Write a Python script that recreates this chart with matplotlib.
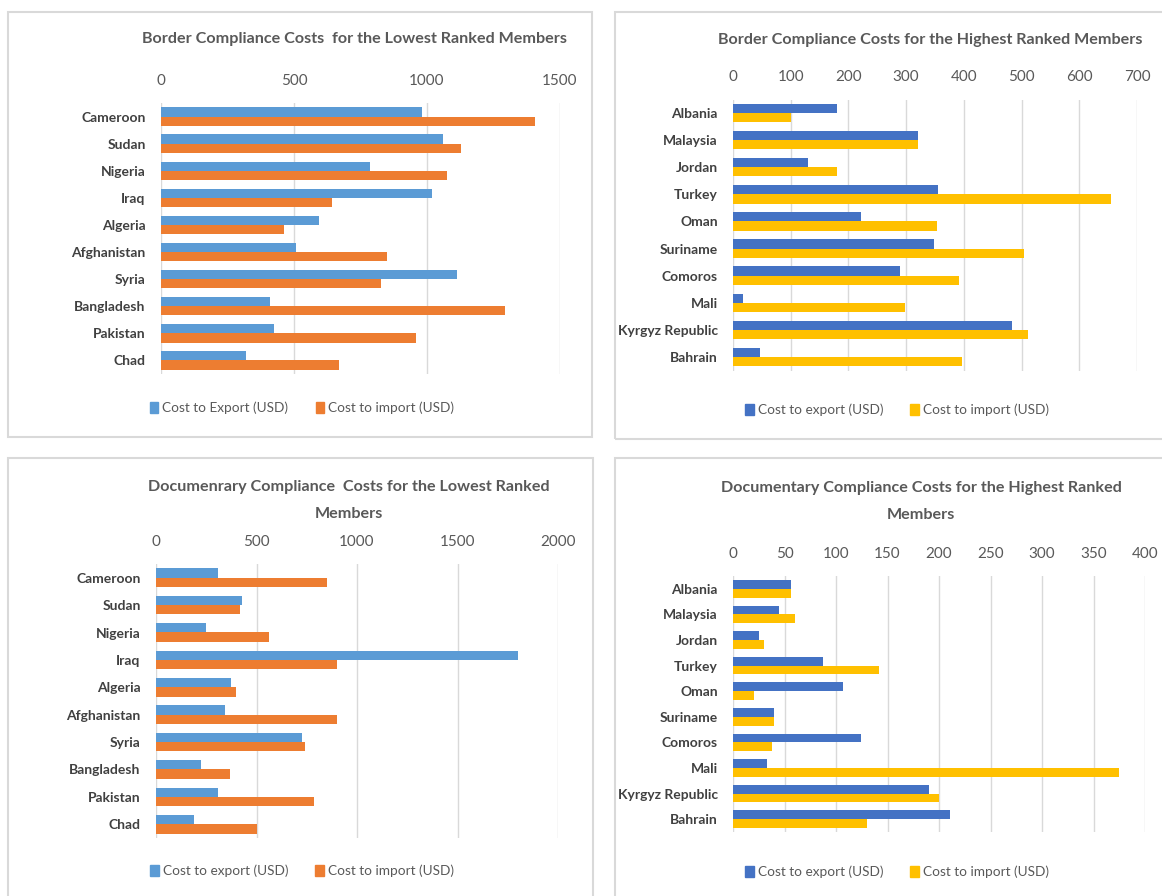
import matplotlib
matplotlib.use("Agg")
import matplotlib.pyplot as plt
import numpy as np
from matplotlib.patches import Patch, Rectangle

plt.rcParams["font.family"] = ["Lato", "DejaVu Sans"]

W, H = 1162, 896

# lowest ranked members
low_members = ["Cameroon", "Sudan", "Nigeria", "Iraq", "Algeria", "Afghanistan",
               "Syria", "Bangladesh", "Pakistan", "Chad"]
low_border_export = [983, 1060, 786, 1018, 594, 509, 1111, 408, 426, 319]
low_border_import = [1407, 1126, 1077, 643, 464, 848, 828, 1294, 957, 669]
low_doc_export = [306, 428, 248, 1800, 374, 342, 725, 225, 306, 188]
low_doc_import = [849, 418, 564, 900, 400, 900, 742, 370, 786, 500]

# highest ranked members
high_members = ["Albania", "Malaysia", "Jordan", "Turkey", "Oman", "Suriname",
                "Comoros", "Mali", "Kyrgyz Republic", "Bahrain"]
high_border_export = [181, 321, 130, 356, 222, 348, 290, 17, 484, 47]
high_border_import = [101, 321, 181, 655, 354, 504, 391, 298, 512, 397]
high_doc_export = [56, 45, 25, 87, 107, 40, 124, 33, 190, 211]
high_doc_import = [56, 60, 30, 142, 20, 40, 38, 375, 200, 130]

BLUE_L, ORANGE = "#5B9BD5", "#ED7D31"
BLUE_H, GOLD = "#4472C4", "#FFC000"
TXT = "#595959"
LBL = "#404040"
GRID = "#D9D9D9"


def fx(x):
    return x / W


def fy(y):
    return 1 - y / H


def add_axes(fig, x0, y0, x1, y1):
    return fig.add_axes([fx(x0), fy(y1), (x1 - x0) / W, (y1 - y0) / H])


def bar_panel(ax, members, exp, imp, c_exp, c_imp, xmax, step):
    y = np.arange(len(members))
    h = 0.34
    ax.barh(y - h / 2, exp, height=h, color=c_exp, zorder=3)
    ax.barh(y + h / 2, imp, height=h, color=c_imp, zorder=3)
    ax.set_ylim(len(members) - 0.5, -0.5)
    ax.set_xlim(0, xmax)
    ax.set_xticks(np.arange(0, xmax + 1, step))
    ax.set_yticks(y)
    ax.set_yticklabels(members, fontsize=10, fontweight="bold", color=LBL)
    ax.xaxis.tick_top()
    ax.tick_params(axis="x", length=0, pad=11, labelsize=11, labelcolor=TXT)
    ax.tick_params(axis="y", length=0, pad=11)
    ax.grid(axis="x", color=GRID, lw=1, zorder=0)
    for s in ax.spines.values():
        s.set_visible(False)


def legend(fig, cx, cy, c_exp, c_imp, l_exp, l_imp):
    handles = [Patch(color=c_exp, label=l_exp), Patch(color=c_imp, label=l_imp)]
    fig.legend(handles=handles, loc="center", bbox_to_anchor=(fx(cx), fy(cy)),
               ncol=2, frameon=False, fontsize=9.8, labelcolor=TXT,
               handlelength=0.6, handleheight=0.9, handletextpad=0.3,
               columnspacing=2.0)


fig = plt.figure(figsize=(W / 100, H / 100), dpi=100)

# panel borders
for x0, y0, x1, y1 in [(8, 12, 592, 437), (615, 12, 1175, 439),
                       (8, 458, 593, 910), (615, 458, 1175, 910)]:
    fig.add_artist(Rectangle((fx(x0), fy(y1)), (x1 - x0) / W, (y1 - y0) / H,
                             transform=fig.transFigure, fill=False,
                             ec=GRID, lw=1.5))

title_kw = dict(ha="center", va="center", fontsize=11.6, fontweight="bold", color=TXT)

# border compliance, lowest ranked
ax1 = add_axes(fig, 161, 103, 560, 374)
bar_panel(ax1, low_members, low_border_export, low_border_import,
          BLUE_L, ORANGE, 1500, 500)
fig.text(fx(355), fy(39), "Border Compliance Costs  for the Lowest Ranked Members", **title_kw)
legend(fig, 302, 408, BLUE_L, ORANGE, "Cost to Export (USD)", "Cost to import (USD)")

# border compliance, highest ranked
ax2 = add_axes(fig, 733, 99.5, 1137, 370.5)
bar_panel(ax2, high_members, high_border_export, high_border_import,
          BLUE_H, GOLD, 700, 100)
fig.text(fx(930), fy(40), "Border Compliance Costs for the Highest Ranked Members", **title_kw)
legend(fig, 897, 410, BLUE_H, GOLD, "Cost to export (USD)", "Cost to import (USD)")

# documentary compliance, lowest ranked
ax3 = add_axes(fig, 156, 564, 558, 838)
bar_panel(ax3, low_members, low_doc_export, low_doc_import,
          BLUE_L, ORANGE, 2000, 500)
fig.text(fx(349), fy(487), "Documenrary Compliance  Costs for the Lowest Ranked", **title_kw)
fig.text(fx(349), fy(514), "Members", **title_kw)
legend(fig, 302, 871, BLUE_L, ORANGE, "Cost to export (USD)", "Cost to import (USD)")

# documentary compliance, highest ranked
ax4 = add_axes(fig, 733, 576, 1145, 832)
bar_panel(ax4, high_members, high_doc_export, high_doc_import,
          BLUE_H, GOLD, 400, 50)
fig.text(fx(921), fy(488), "Documentary Compliance Costs for the Highest Ranked", **title_kw)
fig.text(fx(921), fy(515), "Members", **title_kw)
legend(fig, 897, 872, BLUE_H, GOLD, "Cost to export (USD)", "Cost to import (USD)")

fig.savefig("out.png", dpi=100)
